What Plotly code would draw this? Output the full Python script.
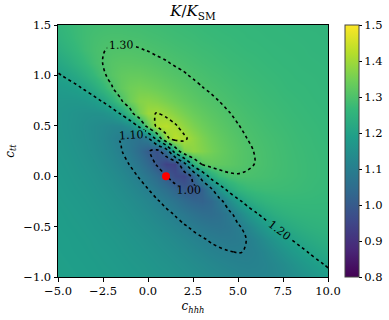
import plotly.graph_objects as go

# ---- data ----
c_hhh = [-5.0, -4.5, -4.0, -3.5, -3.0, -2.5, -2.0, -1.5, -1.0, -0.5, 0.0, 0.5, 1.0, 1.5, 2.0, 2.5,
         3.0, 3.5, 4.0, 4.5, 5.0, 5.5, 6.0, 6.5, 7.0, 7.5, 8.0, 8.5, 9.0, 9.5, 10.0]
c_tt = [-1.0, -0.875, -0.75, -0.625, -0.5, -0.375, -0.25, -0.125, 0.0, 0.125, 0.25, 0.375, 0.5,
        0.625, 0.75, 0.875, 1.0, 1.125, 1.25, 1.375, 1.5]

k_ratio = [
 [1.194,1.193,1.191,1.189,1.187,1.185,1.183,1.180,1.177,1.174,1.170,1.167,1.163,1.158,1.153,1.148,1.143,1.137,1.132,1.127,1.122,1.119,1.118,1.119,1.123,1.130,1.140,1.151,1.163,1.175,1.187],
 [1.193,1.191,1.189,1.187,1.185,1.182,1.180,1.177,1.173,1.170,1.166,1.161,1.157,1.151,1.146,1.139,1.133,1.126,1.120,1.115,1.111,1.109,1.111,1.116,1.126,1.138,1.153,1.168,1.182,1.194,1.205],
 [1.191,1.189,1.187,1.185,1.182,1.180,1.177,1.173,1.169,1.165,1.160,1.155,1.149,1.143,1.136,1.128,1.120,1.112,1.106,1.101,1.099,1.101,1.109,1.122,1.139,1.157,1.175,1.190,1.204,1.215,1.223],
 [1.190,1.188,1.185,1.183,1.180,1.176,1.173,1.169,1.164,1.159,1.153,1.147,1.140,1.132,1.123,1.113,1.104,1.095,1.088,1.086,1.090,1.101,1.119,1.141,1.164,1.185,1.202,1.216,1.226,1.234,1.239],
 [1.188,1.185,1.183,1.180,1.176,1.173,1.168,1.164,1.158,1.152,1.145,1.137,1.127,1.117,1.105,1.093,1.082,1.073,1.070,1.076,1.093,1.118,1.148,1.176,1.199,1.217,1.229,1.238,1.245,1.249,1.251],
 [1.186,1.183,1.180,1.177,1.173,1.168,1.163,1.158,1.151,1.143,1.134,1.123,1.111,1.097,1.081,1.066,1.053,1.049,1.059,1.085,1.123,1.162,1.194,1.218,1.235,1.245,1.252,1.256,1.258,1.259,1.260],
 [1.183,1.180,1.177,1.173,1.168,1.163,1.157,1.150,1.142,1.132,1.120,1.105,1.088,1.068,1.046,1.028,1.022,1.039,1.082,1.137,1.186,1.221,1.242,1.255,1.262,1.266,1.267,1.267,1.267,1.266,1.265],
 [1.181,1.177,1.173,1.169,1.163,1.157,1.150,1.141,1.130,1.117,1.100,1.079,1.054,1.025,0.997,0.987,1.019,1.093,1.170,1.224,1.255,1.270,1.276,1.278,1.278,1.277,1.276,1.274,1.272,1.270,1.268],
 [1.178,1.174,1.169,1.164,1.158,1.150,1.141,1.130,1.115,1.097,1.073,1.042,1.003,0.963,0.951,1.016,1.138,1.230,1.275,1.292,1.297,1.296,1.293,1.290,1.286,1.283,1.280,1.277,1.274,1.272,1.269],
 [1.175,1.171,1.165,1.159,1.152,1.142,1.131,1.116,1.097,1.072,1.037,0.991,0.942,0.943,1.078,1.239,1.311,1.328,1.326,1.320,1.312,1.305,1.299,1.293,1.288,1.284,1.280,1.277,1.274,1.272,1.269],
 [1.172,1.167,1.161,1.154,1.145,1.134,1.121,1.103,1.079,1.047,1.007,0.978,1.044,1.245,1.363,1.379,1.366,1.350,1.335,1.323,1.313,1.305,1.298,1.292,1.287,1.283,1.279,1.276,1.273,1.271,1.269],
 [1.169,1.164,1.157,1.150,1.140,1.129,1.114,1.097,1.078,1.066,1.096,1.230,1.385,1.426,1.409,1.383,1.360,1.342,1.328,1.317,1.308,1.300,1.294,1.289,1.285,1.281,1.277,1.274,1.272,1.269,1.267],
 [1.167,1.162,1.156,1.148,1.140,1.132,1.124,1.124,1.145,1.214,1.332,1.414,1.426,1.406,1.381,1.360,1.343,1.329,1.318,1.309,1.301,1.295,1.290,1.285,1.281,1.278,1.275,1.272,1.270,1.268,1.266],
 [1.167,1.163,1.158,1.154,1.152,1.155,1.170,1.208,1.275,1.351,1.395,1.401,1.388,1.370,1.353,1.338,1.326,1.316,1.308,1.301,1.295,1.289,1.285,1.281,1.278,1.275,1.272,1.270,1.268,1.266,1.264],
 [1.171,1.169,1.169,1.173,1.184,1.206,1.245,1.295,1.342,1.369,1.374,1.367,1.355,1.343,1.331,1.321,1.312,1.305,1.299,1.293,1.288,1.284,1.281,1.277,1.275,1.272,1.270,1.268,1.266,1.264,1.263],
 [1.180,1.184,1.191,1.206,1.229,1.261,1.297,1.327,1.345,1.351,1.347,1.340,1.332,1.323,1.315,1.308,1.301,1.296,1.291,1.287,1.283,1.280,1.277,1.274,1.272,1.269,1.267,1.266,1.264,1.262,1.261],
 [1.196,1.206,1.221,1.242,1.267,1.293,1.313,1.326,1.331,1.331,1.326,1.321,1.314,1.308,1.303,1.297,1.293,1.288,1.285,1.281,1.278,1.275,1.273,1.271,1.269,1.267,1.265,1.263,1.262,1.261,1.259],
 [1.216,1.230,1.248,1.267,1.286,1.301,1.311,1.316,1.316,1.314,1.311,1.306,1.302,1.297,1.293,1.289,1.285,1.282,1.279,1.276,1.274,1.272,1.270,1.268,1.266,1.264,1.263,1.261,1.260,1.259,1.258],
 [1.236,1.250,1.265,1.280,1.291,1.299,1.303,1.304,1.304,1.302,1.299,1.295,1.292,1.288,1.285,1.282,1.279,1.277,1.274,1.272,1.270,1.268,1.267,1.265,1.263,1.262,1.261,1.260,1.258,1.257,1.256],
 [1.250,1.262,1.273,1.282,1.289,1.293,1.295,1.295,1.293,1.292,1.289,1.287,1.284,1.281,1.279,1.277,1.274,1.272,1.270,1.269,1.267,1.265,1.264,1.262,1.261,1.260,1.259,1.258,1.257,1.256,1.255],
 [1.259,1.268,1.275,1.281,1.284,1.286,1.287,1.286,1.285,1.284,1.282,1.280,1.278,1.276,1.274,1.272,1.270,1.268,1.267,1.265,1.264,1.263,1.261,1.260,1.259,1.258,1.257,1.256,1.255,1.255,1.254],
]

contour_levels = [1.0, 1.1, 1.2, 1.3, 1.4]
sm_chhh = [1.0]
sm_ctt = [0.0]

x_tickvals = [-5.0, -2.5, 0.0, 2.5, 5.0, 7.5, 10.0]
x_ticktext = ["\u22125.0", "\u22122.5", "0.0", "2.5", "5.0", "7.5", "10.0"]
y_tickvals = [-1.0, -0.5, 0.0, 0.5, 1.0, 1.5]
y_ticktext = ["\u22121.0", "\u22120.5", "0.0", "0.5", "1.0", "1.5"]
cb_tickvals = [0.8, 0.9, 1.0, 1.1, 1.2, 1.3, 1.4, 1.5]
cb_ticktext = ["0.8", "0.9", "1.0", "1.1", "1.2", "1.3", "1.4", "1.5"]

serif = "DejaVu Serif"
tf = dict(family=serif, size=11.5, color="black")

fig = go.Figure()
fig.add_trace(go.Heatmap(
    x=c_hhh, y=c_tt, z=k_ratio, colorscale="Viridis", zmin=0.8, zmax=1.5, zsmooth="best",
    colorbar=dict(x=1.062, xanchor="left", y=0.5, yanchor="middle", len=1.0, lenmode="fraction",
                  thickness=14, xpad=0, ypad=0, outlinewidth=1, outlinecolor="#444",
                  tickvals=cb_tickvals, ticktext=cb_ticktext, ticks="outside", ticklen=3,
                  tickcolor="black", tickfont=tf),
    hoverinfo="skip"))
fig.add_trace(go.Contour(
    x=c_hhh, y=c_tt, z=k_ratio, showscale=False, hoverinfo="skip",
    contours=dict(coloring="none", start=contour_levels[0], end=contour_levels[-1], size=0.1,
                  showlabels=True, labelfont=dict(family=serif, size=11, color="black"),
                  labelformat=".2f"),
    line=dict(color="black", width=1.6, dash="dot", smoothing=1.0)))
fig.add_trace(go.Scatter(x=sm_chhh, y=sm_ctt, mode="markers",
                         marker=dict(color="red", size=8), hoverinfo="skip"))

fig.update_layout(
    width=389, height=320, margin=dict(l=58, r=61, t=25, b=43, autoexpand=False),
    paper_bgcolor="white", plot_bgcolor="white", showlegend=False,
    title=dict(text="<i>K</i>/<i>K</i><sub>SM</sub>", x=0.5, xref="paper", xanchor="center",
               y=0.965, yanchor="middle", font=dict(family=serif, size=15, color="black")))
fig.update_xaxes(range=[-5, 10], tickvals=x_tickvals, ticktext=x_ticktext, tickfont=tf,
    showline=True, linecolor="black", linewidth=1, mirror=True, ticks="outside", ticklen=3.5,
    tickcolor="black", showgrid=False, zeroline=False,
    title=dict(text="<i>c</i><sub><i>hhh</i></sub>", font=dict(family=serif, size=12, color="black"),
               standoff=4))
fig.update_yaxes(range=[-1, 1.5], tickvals=y_tickvals, ticktext=y_ticktext, tickfont=tf,
    showline=True, linecolor="black", linewidth=1, mirror=True, ticks="outside", ticklen=3.5,
    tickcolor="black", showgrid=False, zeroline=False,
    title=dict(text="<i>c</i><sub><i>tt</i></sub>", font=dict(family=serif, size=12, color="black"),
               standoff=6))

fig.write_html("out.html", config={"displayModeBar": False},
               post_script="document.body.style.margin='0';")
